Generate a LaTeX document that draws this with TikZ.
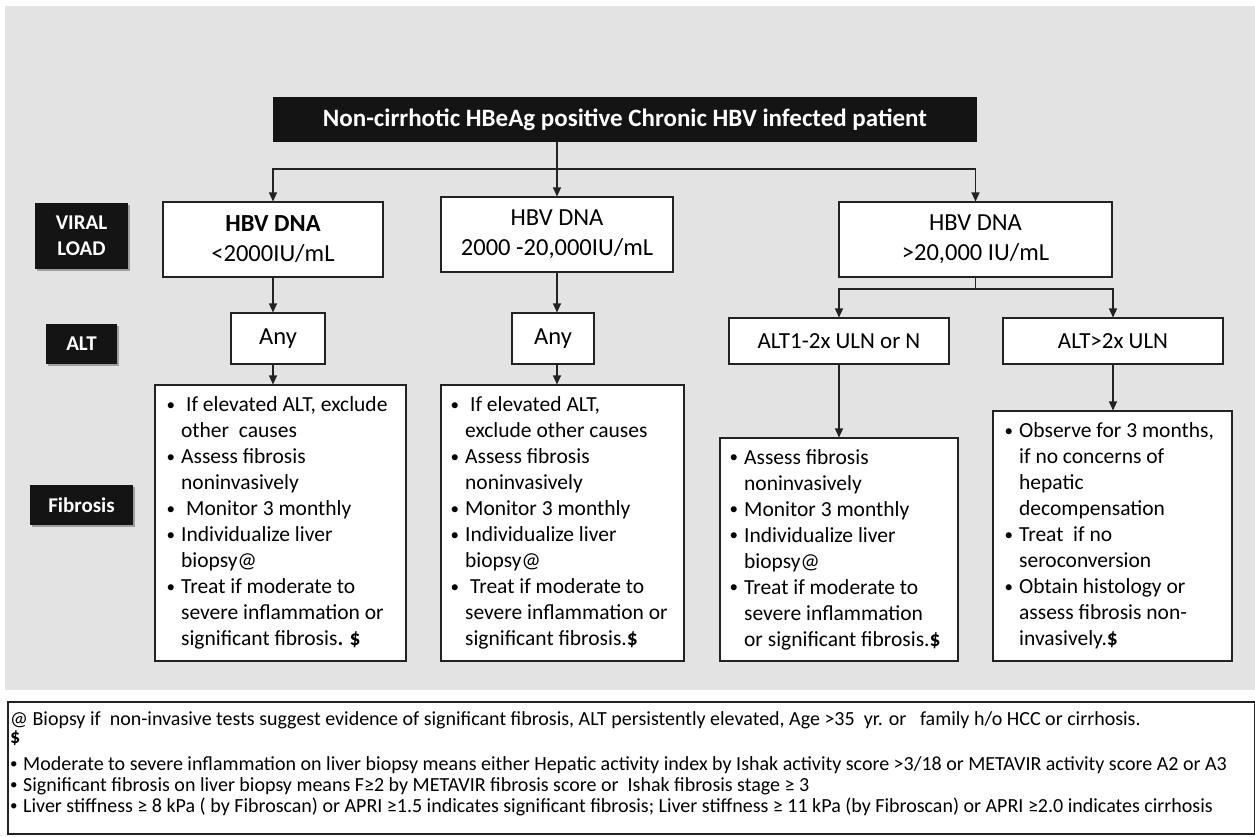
\documentclass[tikz,border=0pt]{standalone}
\usepackage{fontspec}
\setmainfont{Carlito}
\usetikzlibrary{positioning}
\usetikzlibrary{arrows.meta}
\usetikzlibrary{shadows}
\definecolor{panelgray}{HTML}{E3E3E3}
\definecolor{tagblack}{HTML}{141414}
\definecolor{linegray}{HTML}{222222}
\tikzset{
        titlebox/.style={
          fill=tagblack, text=white, align=center, inner sep=0pt,
          font=\fontsize{25}{30}\selectfont\bfseries
          },
        tagbox/.style={
          titlebox, font=\fontsize{21}{26}\selectfont\bfseries,
          drop shadow={shadow xshift=1.5pt, shadow yshift=-2pt, opacity=0.3, fill=black}
          },
        flowbox/.style={
          draw=linegray, line width=1.1pt, fill=white, align=center, inner sep=0pt,
          font=\fontsize{24.5}{30}\selectfont
          },
        listbox/.style={draw=linegray, line width=1.1pt, fill=white, inner sep=0pt},
        listtext/.style={anchor=west, align=left, inner sep=0pt, font=\fontsize{21.5}{26}\selectfont},
        noteline/.style={anchor=base west, inner sep=0pt, font=\fontsize{20}{20}\selectfont},
        flow/.style={draw=linegray, line width=1.1pt, -{Triangle[length=9pt, width=8pt]}},
        link/.style={draw=linegray, line width=1.1pt},
}
\newcommand{\itm}{\makebox[14.5pt][l]{\fontsize{17}{17}\selectfont\raisebox{1.5pt}{\textbullet}}}
\newcommand{\cnt}{\hspace*{14.5pt}}
\newcommand{\xsp}{\hspace*{5pt}}
\newcommand{\nbu}{\makebox[13pt][l]{\fontsize{15}{15}\selectfont\raisebox{1.6pt}{\textbullet}}}
\begin{document}
\begin{tikzpicture}[x=1pt, y=-1pt]
      \useasboundingbox (0,0) rectangle (1255,836);
      % grey panel
      \fill[panelgray] (5,6) rectangle (1255,690);

      % title
      \node[titlebox, minimum width=704pt, minimum height=45pt] (title) at (625,119.5)
        {Non-cirrhotic HBeAg positive Chronic HBV infected patient};

      % row labels
      \node[tagbox, minimum width=93pt, minimum height=66pt] (viral) at (81.5,236) {VIRAL\\LOAD};
      \node[tagbox, minimum width=71pt, minimum height=40pt] (altlabel) at (81.5,344) {ALT};
      \node[tagbox, minimum width=103pt, minimum height=40pt] (fiblabel) at (81.5,505) {Fibrosis};

      % VIRAL LOAD
      \node[flowbox, minimum width=220pt, minimum height=75pt] (dna1) at (273,239.5) {\textbf{HBV DNA}\\<2000IU/mL};
      \node[flowbox, minimum width=232pt, minimum height=75pt] (dna2) at (557,234.5) {HBV DNA\\2000 -20,000IU/mL};
      \node[flowbox, minimum width=273pt, minimum height=75pt] (dna3) at (975.5,239.5) {HBV DNA\\>20,000 IU/mL};

      % ALT
      \node[flowbox, minimum width=94pt, minimum height=51pt] (any1) at (278,338.5) {Any};
      \node[flowbox, minimum width=82pt, minimum height=51pt] (any2) at (553,338.5) {Any};
      \node[flowbox, minimum width=220pt, minimum height=46pt, font=\fontsize{23}{28}\selectfont] (alta) at (839,341) {ALT1-2x ULN or N};
      \node[flowbox, minimum width=220pt, minimum height=46pt, font=\fontsize{23}{28}\selectfont] (altb) at (1113,341) {ALT>2x ULN};

      % FIBROSIS
      \node[listbox, minimum width=251pt, minimum height=276pt] (mgmt1) at (280.5,523) {};
      \node[listtext] (mgmt1text) at ([xshift=12pt]mgmt1.west) {%
        \itm\xsp If elevated ALT, exclude\\
        \cnt other\ \ causes\\
        \itm Assess fibrosis\\
        \cnt noninvasively\\
        \itm\xsp Monitor 3 monthly\\
        \itm Individualize liver\\
        \cnt biopsy@\\
        \itm Treat if moderate to\\
        \cnt severe inflammation or\\
        \cnt significant fibrosis\textbf{. \$}};

      \node[listbox, minimum width=243pt, minimum height=276pt] (mgmt2) at (562.5,523) {};
      \node[listtext] (mgmt2text) at ([xshift=10pt]mgmt2.west) {%
        \itm\xsp If elevated ALT,\\
        \cnt exclude other causes\\
        \itm Assess fibrosis\\
        \cnt noninvasively\\
        \itm Monitor 3 monthly\\
        \itm Individualize liver\\
        \cnt biopsy@\\
        \itm\xsp Treat if moderate to\\
        \cnt severe inflammation or\\
        \cnt significant fibrosis.\textbf{\$}};

      \node[listbox, minimum width=238pt, minimum height=223pt] (mgmt3) at (839,549.5) {};
      \node[listtext] (mgmt3text) at ([xshift=10pt]mgmt3.west) {%
        \itm Assess fibrosis\\
        \cnt noninvasively\\
        \itm Monitor 3 monthly\\
        \itm Individualize liver\\
        \cnt biopsy@\\
        \itm Treat if moderate to\\
        \cnt severe inflammation\\
        \cnt or significant fibrosis.\textbf{\$}};

      \node[listbox, minimum width=239pt, minimum height=250pt] (mgmt4) at (1112.5,536) {};
      \node[listtext] (mgmt4text) at ([xshift=12pt]mgmt4.west) {%
        \itm Observe for 3 months,\\
        \cnt if no concerns of\\
        \cnt hepatic\\
        \cnt decompensation\\
        \itm Treat\ \ if no\\
        \cnt seroconversion\\
        \itm Obtain histology or\\
        \cnt assess fibrosis non-\\
        \cnt invasively.\textbf{\$}};

      % WIRING
      % title to viral load
      \coordinate (split) at (557,169);
      \draw[flow] (title.south -| dna2) -- (dna2.north);
      \draw[flow] (dna3.north |- split) -- (dna1.north |- split) -- (dna1.north);
      \draw[flow] (dna3.north |- split) -- (dna3.north);
      % viral load to alt
      \draw[flow] (dna1.south) -- (dna1.south |- any1.north);
      \draw[flow] (dna2.south) -- (dna2.south |- any2.north);
      \coordinate (split2) at (976,289);
      \draw[link] (dna3.south) -- (dna3.south |- split2);
      \draw[flow] (dna3.south |- split2) -| (alta.north);
      \draw[flow] (dna3.south |- split2) -| (altb.north);
      % alt to fibrosis
      \draw[flow] (dna1.south |- any1.south) -- (dna1.south |- mgmt1.north);
      \draw[flow] (dna2.south |- any2.south) -- (dna2.south |- mgmt2.north);
      \draw[flow] (alta.south) -- (alta.south |- mgmt3.north);
      \draw[flow] (altb.south) -- (altb.south |- mgmt4.north);

      % footnotes
      \draw[draw=linegray, line width=1.1pt] (8,702) rectangle (1255,834);
      \node[noteline] (note1) at (10,725)
        {@ Biopsy if\ \ non-invasive tests suggest evidence of significant fibrosis, ALT persistently elevated, Age >35\ \ yr. or\ \ \ family h/o HCC or cirrhosis.};
      \node[noteline] (note2) at (10,743) {\textbf{\$}};
      \node[noteline] (note3) at (10,770)
        {\nbu Moderate to severe inflammation on liver biopsy means either Hepatic activity index by Ishak activity score >3/18 or METAVIR activity score A2 or A3};
      \node[noteline] (note4) at (10,791)
        {\nbu Significant fibrosis on liver biopsy means F≥2 by METAVIR fibrosis score or\ \ Ishak fibrosis stage ≥ 3};
      \node[noteline] (note5) at (10,812)
        {\nbu Liver stiffness ≥ 8 kPa ( by Fibroscan) or APRI ≥1.5 indicates significant fibrosis; Liver stiffness ≥ 11 kPa (by Fibroscan) or APRI ≥2.0 indicates cirrhosis};
\end{tikzpicture}
\end{document}
